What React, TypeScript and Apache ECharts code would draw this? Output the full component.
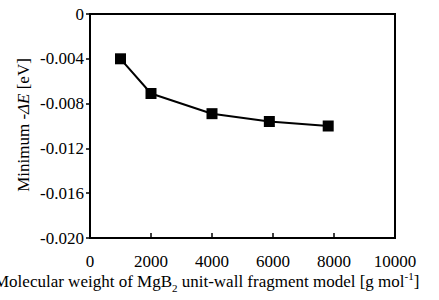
import React, { useEffect, useRef } from "react";
import * as echarts from "echarts";

const molecularWeight = [1000, 2000, 4000, 5880, 7810];
const minDeltaE = [-0.004, -0.0071, -0.0089, -0.0096, -0.01];
const xTicks = [0, 2000, 4000, 6000, 8000, 10000];
const yTicks = [0, -0.004, -0.008, -0.012, -0.016, -0.02];

const FONT = "Liberation Serif";

export default function App() {
  const ref = useRef<HTMLDivElement>(null);
  useEffect(() => {
    const chart = echarts.init(ref.current!, null, { renderer: "svg" });
    chart.setOption({
      animation: false,
      backgroundColor: "#fff",
      grid: {
        left: 90,
        right: 44,
        top: 14,
        bottom: 62,
        show: true,
        borderColor: "#000",
        borderWidth: 2,
        backgroundColor: "transparent",
      },
      xAxis: {
        type: "value",
        min: xTicks[0],
        max: xTicks[xTicks.length - 1],
        interval: 2000,
        axisLine: { show: true, onZero: false, lineStyle: { color: "#000", width: 2 } },
        axisTick: { show: true, inside: true, length: 5, lineStyle: { color: "#000", width: 1.5 } },
        splitLine: { show: false },
        axisLabel: {
          color: "#000",
          fontFamily: FONT,
          fontSize: 17,
          margin: 15,
          formatter: (v: number) => String(v),
        },
      },
      yAxis: {
        type: "value",
        min: yTicks[yTicks.length - 1],
        max: yTicks[0],
        interval: 0.004,
        axisLine: { show: true, onZero: false, lineStyle: { color: "#000", width: 2 } },
        axisTick: { show: true, inside: false, length: 4, lineStyle: { color: "#000", width: 1.5 } },
        splitLine: { show: false },
        axisLabel: {
          color: "#000",
          fontFamily: FONT,
          fontSize: 17,
          margin: 6,
          formatter: (v: number) => (Math.abs(v) < 1e-9 ? "0" : v.toFixed(3)),
        },
      },
      graphic: [
        {
          type: "text",
          left: -6,
          top: 270,
          style: {
            text: "{n|Molecular weight of MgB}{sub|2}{n| unit-wall fragment model [g mol}{sup|-1}{n|]}",
            rich: {
              n: { fontFamily: FONT, fontSize: 17, fill: "#000", verticalAlign: "bottom", lineHeight: 20 },
              sub: { fontFamily: FONT, fontSize: 11, fill: "#000", verticalAlign: "bottom", lineHeight: 13, padding: [0, 0, -3, 0] },
              sup: { fontFamily: FONT, fontSize: 11, fill: "#000", verticalAlign: "top", lineHeight: 13, padding: [0, 0, 7, 0] },
            },
          },
        },
        {
          type: "text",
          x: 23,
          y: 125,
          rotation: Math.PI / 2,
          style: {
            text: "{n|Minimum -}{i|ΔE}{n| [eV]}",
            align: "center",
            verticalAlign: "middle",
            rich: {
              n: { fontFamily: FONT, fontSize: 17, fill: "#000" },
              i: { fontFamily: FONT, fontSize: 17, fill: "#000", fontStyle: "italic" },
            },
          },
        },
      ],
      series: [
        {
          type: "line",
          data: molecularWeight.map((x, i) => [x, minDeltaE[i]]),
          symbol: "rect",
          symbolSize: 11,
          itemStyle: { color: "#000" },
          lineStyle: { color: "#000", width: 2 },
        },
      ],
    });
    return () => chart.dispose();
  }, []);
  return <div ref={ref} style={{ width: 439, height: 300, position: "absolute", left: 0, top: 0 }} />;
}
